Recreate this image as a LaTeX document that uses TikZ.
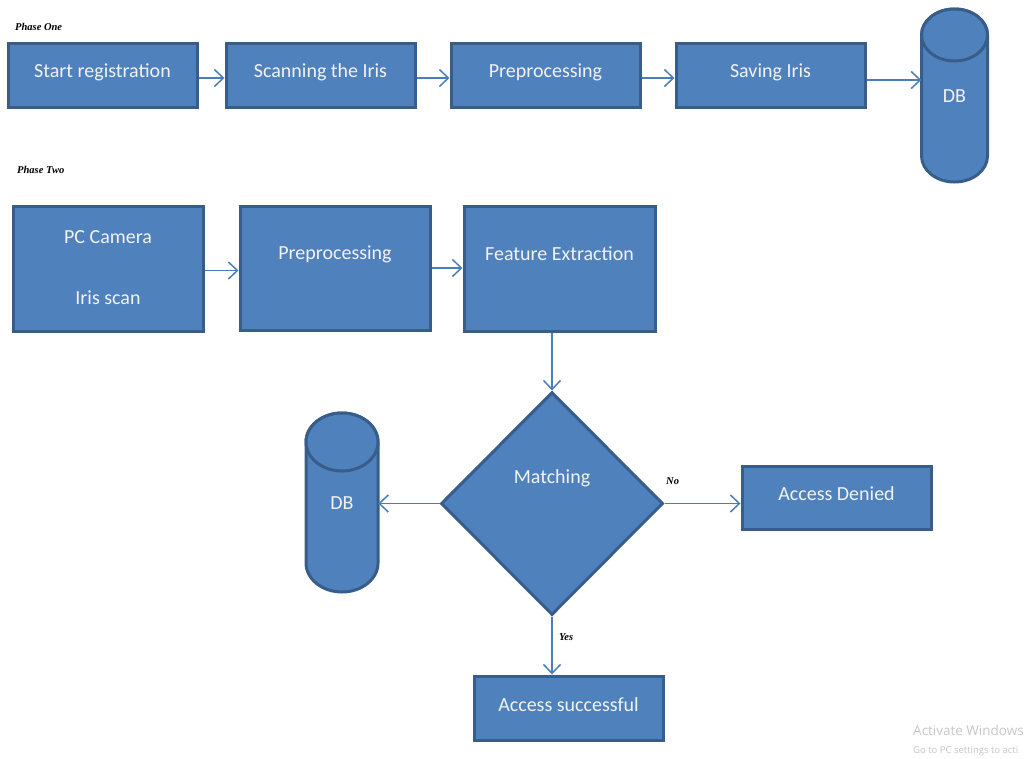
\documentclass[tikz,border=0pt]{standalone}
\usepackage{fontspec}
\setmainfont{Carlito}
\newfontfamily\phasefont{Liberation Serif}
\newfontfamily\wmfont{Open Sans}
\usetikzlibrary{shapes.geometric,arrows.meta}
\definecolor{boxfill}{HTML}{4F81BD}
\definecolor{boxline}{HTML}{385D8A}
\definecolor{arrcol}{HTML}{4A7EBB}
\definecolor{wmgray}{HTML}{C6C6C6}
\tikzset{
  box/.style={draw=boxline, fill=boxfill, line width=3pt, inner sep=0pt},
  txt/.style={text=white!95!black, font=\fontsize{20}{24}\selectfont, inner sep=0pt},
  phase/.style={font=\phasefont\bfseries\itshape\fontsize{10.5}{12}\selectfont, inner sep=0pt, anchor=west},
  arr/.style={draw=arrcol, line width=1.5pt, -{Straight Barb[length=9pt,width=17pt,line width=1.5pt]}},
  cyl/.style={draw=boxline, fill=boxfill, line width=3pt},
}
\newcommand{\dbcyl}[6]{% name, cx, top, bottom, rx, ry (pixel units, y down)
  \path[cyl] (#2-#5,-#3-#6) -- (#2-#5,-#4+#6)
     arc[start angle=180, end angle=360, x radius=#5, y radius=#6]
     -- (#2+#5,-#3-#6)
     arc[start angle=0, end angle=180, x radius=#5, y radius=#6] -- cycle;
  \draw[cyl] (#2,-#3-#6) ellipse[x radius=#5, y radius=#6];
  \node[inner sep=0pt, minimum width=2*#5, minimum height=#4-#3] (#1) at (#2,-#3/2-#4/2) {};
}
\begin{document}
\begin{tikzpicture}[x=1pt,y=1pt]
\useasboundingbox (0,0) rectangle (1024,-758);

% Phase One
\node[phase] (p1) at (15,-27) {Phase One};
\node[box, minimum width=189, minimum height=64] (start) at (102.5,-75) {};
\node[txt] (starttxt) at (102.5,-72) {Start registration};
\node[box, minimum width=189, minimum height=64] (scan) at (320.5,-75) {};
\node[txt] (scantxt) at (320.5,-72) {Scanning the Iris};
\node[box, minimum width=189, minimum height=64] (pre1) at (545.5,-75) {};
\node[txt] (pre1txt) at (545.5,-72) {Preprocessing};
\node[box, minimum width=189, minimum height=64] (save) at (770.5,-75) {};
\node[txt] (savetxt) at (770.5,-72) {Saving Iris};
\dbcyl{db1}{954.5}{9}{182}{33}{26}
\node[txt] (db1txt) at (954.5,-96) {DB};

\draw[arr] ([yshift=-3pt]start.east) -- ([yshift=-3pt]start.east -| scan.west);
\draw[arr] ([yshift=-3pt]scan.east) -- ([yshift=-3pt]scan.east -| pre1.west);
\draw[arr] ([yshift=-3pt]pre1.east) -- ([yshift=-3pt]pre1.east -| save.west);
\draw[arr] ([yshift=-5pt]save.east) -- ([yshift=-5pt]save.east -| db1.west);

% Phase Two
\node[phase] (p2) at (17,-170) {Phase Two};
\node[box, minimum width=190, minimum height=125] (cam) at (108,-268.5) {};
\node[txt] (camtxt1) at (108,-237) {PC Camera};
\node[txt] (camtxt2) at (108,-298) {Iris scan};
\node[box, minimum width=190, minimum height=124] (pre2) at (335,-268) {};
\node[txt] (pre2txt) at (335,-254) {Preprocessing};
\node[box, minimum width=191, minimum height=125] (feat) at (559.5,-268.5) {};
\node[txt] (feattxt) at (559.5,-254) {Feature Extraction};

\draw[arr] ([yshift=-2pt]cam.east) -- ([yshift=-2pt]cam.east -| pre2.west);
\draw[arr] (pre2.east) -- (pre2.east -| feat.west);

\node[draw=boxline, fill=boxfill, line width=3pt, diamond, inner sep=0pt,
      minimum width=222, minimum height=223] (match) at (552,-503.5) {};
\node[txt] (matchtxt) at (552,-478) {Matching};
\draw[arr] (feat.south -| match.north) -- (match.north);

\dbcyl{db2}{342}{413}{592}{36}{29}
\node[txt] (db2txt) at (342,-503) {DB};
\draw[arr] (match.west) -- (match.west -| db2.east);

\node[box, minimum width=189, minimum height=63] (deny) at (836.5,-497.5) {};
\node[txt] (denytxt) at (836.5,-494) {Access Denied};
\draw[arr] (match.east) -- (match.east -| deny.west);
\node[phase] (no) at (666,-481) {No};

\node[box, minimum width=189, minimum height=64] (succ) at (568.5,-708) {};
\node[txt] (succtxt) at (568.5,-705) {Access successful};
\draw[arr] (match.south) -- (match.south |- succ.north);
\node[phase] (yes) at (559,-637) {Yes};

% watermark
\node[anchor=base west, inner sep=0pt, text=wmgray, font=\wmfont\fontsize{13.5}{16}\selectfont] (wm1) at (913,-735) {Activate Windows};
\node[anchor=base west, inner sep=0pt, text=wmgray, font=\wmfont\fontsize{9.5}{12}\selectfont] (wm2) at (913,-753) {Go to PC settings to acti};
\end{tikzpicture}
\end{document}
